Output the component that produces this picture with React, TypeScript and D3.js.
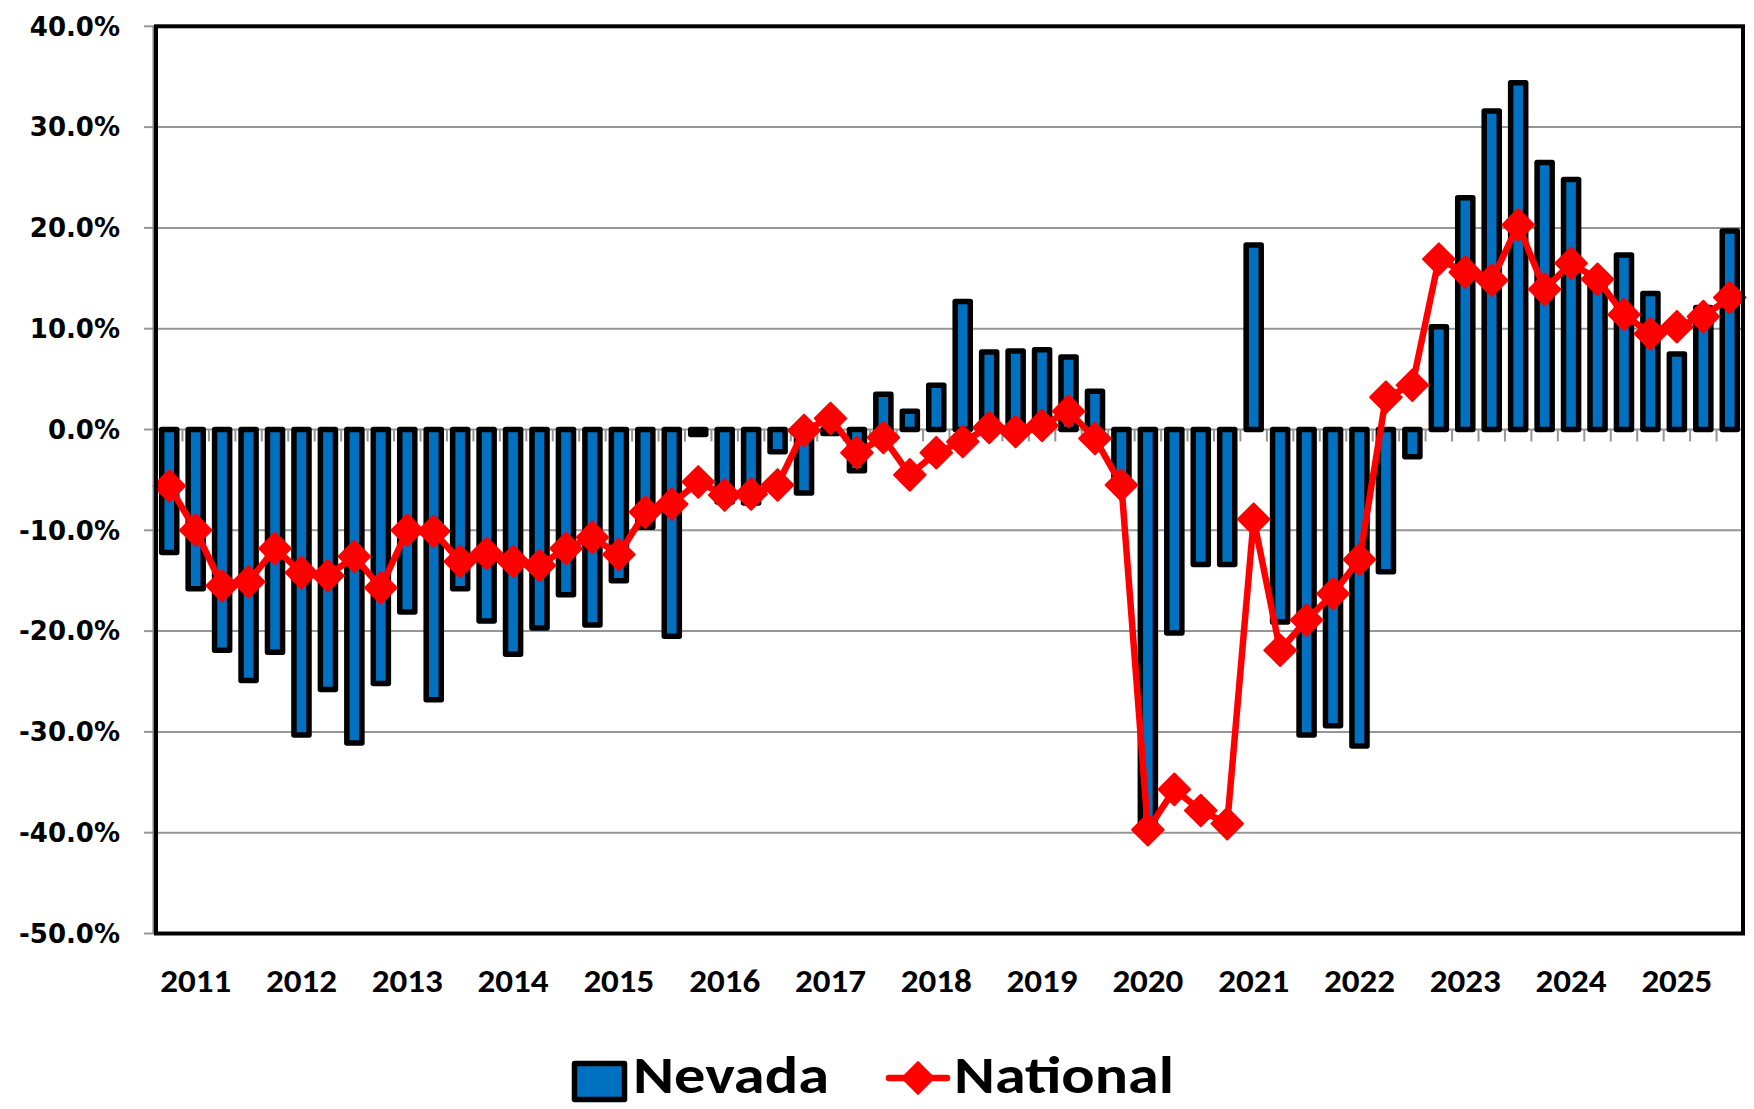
import * as d3 from "d3";
import { useEffect, useRef } from "react";

const QUARTERS = [
  "2010 Q4",
  "2011 Q1", "2011 Q2", "2011 Q3", "2011 Q4",
  "2012 Q1", "2012 Q2", "2012 Q3", "2012 Q4",
  "2013 Q1", "2013 Q2", "2013 Q3", "2013 Q4",
  "2014 Q1", "2014 Q2", "2014 Q3", "2014 Q4",
  "2015 Q1", "2015 Q2", "2015 Q3", "2015 Q4",
  "2016 Q1", "2016 Q2", "2016 Q3", "2016 Q4",
  "2017 Q1", "2017 Q2", "2017 Q3", "2017 Q4",
  "2018 Q1", "2018 Q2", "2018 Q3", "2018 Q4",
  "2019 Q1", "2019 Q2", "2019 Q3", "2019 Q4",
  "2020 Q1", "2020 Q2", "2020 Q3", "2020 Q4",
  "2021 Q1", "2021 Q2", "2021 Q3", "2021 Q4",
  "2022 Q1", "2022 Q2", "2022 Q3", "2022 Q4",
  "2023 Q1", "2023 Q2", "2023 Q3", "2023 Q4",
  "2024 Q1", "2024 Q2", "2024 Q3", "2024 Q4",
  "2025 Q1", "2025 Q2", "2025 Q3",
];

// year labels sit on the Q1 of each year
const YEAR_LABELS = [
  "2011", "2012", "2013", "2014", "2015", "2016", "2017", "2018",
  "2019", "2020", "2021", "2022", "2023", "2024", "2025",
];

const NEVADA = [
  -12.2, -15.8, -21.9, -24.9, -22.1, -30.3, -25.8, -31.1, -25.2, -18.1,
  -26.8, -15.8, -19.0, -22.3, -19.7, -16.4, -19.4, -15.0, -9.7, -20.5,
  -0.5, -7.2, -7.3, -2.2, -6.3, -0.4, -4.1, 3.5, 1.8, 4.4,
  12.7, 7.7, 7.8, 7.9, 7.2, 3.8, -5.8, -39.6, -20.2, -13.4,
  -13.4, 18.3, -19.1, -30.3, -29.4, -31.4, -14.1, -2.7, 10.2, 23.0,
  31.6, 34.4, 26.5, 24.8, 14.5, 17.3, 13.5, 7.5, 12.1, 19.7,
];

const NATIONAL = [
  -5.6, -10.0, -15.5, -15.1, -11.8, -14.2, -14.5, -12.6, -15.7, -10.0,
  -10.1, -13.1, -12.3, -13.1, -13.5, -11.8, -10.7, -12.4, -8.2, -7.4,
  -5.2, -6.5, -6.4, -5.5, -0.1, 1.1, -2.3, -0.8, -4.5, -2.3,
  -1.2, 0.2, -0.2, 0.4, 1.8, -0.9, -5.5, -39.7, -35.7, -37.8,
  -39.1, -8.9, -21.9, -18.9, -16.3, -12.9, 3.2, 4.4, 16.9, 15.6,
  14.8, 20.3, 13.9, 16.5, 14.9, 11.4, 9.5, 10.2, 11.2, 13.1,
];

const Y_TICKS = [-50, -40, -30, -20, -10, 0, 10, 20, 30, 40];

const W = 1754;
const H = 1109;
const PLOT = { left: 156, right: 1743, top: 26.3, bottom: 933.5 };
const BLUE = "#0070C0";
const RED = "#FF0000";
const GRID = "#969696";
const LABEL_FONT = "Carlito, Lato, 'Open Sans', sans-serif";

const App = () => {
  const svgRef = useRef<SVGSVGElement>(null);

  useEffect(() => {
    document.body.style.margin = "0";
    if (!svgRef.current) return;
    const svg = d3.select(svgRef.current);
    svg.selectAll("*").remove();

    const x = d3
      .scaleBand<string>()
      .domain(QUARTERS)
      .range([PLOT.left, PLOT.right])
      .paddingInner(0.43)
      .paddingOuter(0.215);
    const step = x.step();
    const cx = (q: string) => (x(q) as number) + x.bandwidth() / 2;

    const y = d3
      .scaleLinear()
      .domain([-50, 40])
      .range([PLOT.bottom, PLOT.top]);

    // plot background
    svg
      .append("rect")
      .attr("x", PLOT.left)
      .attr("y", PLOT.top)
      .attr("width", PLOT.right - PLOT.left)
      .attr("height", PLOT.bottom - PLOT.top)
      .attr("fill", "#fff");

    // gridlines
    svg
      .append("g")
      .selectAll("line")
      .data(Y_TICKS)
      .enter()
      .append("line")
      .attr("x1", PLOT.left)
      .attr("x2", PLOT.right)
      .attr("y1", (d) => y(d))
      .attr("y2", (d) => y(d))
      .attr("stroke", GRID)
      .attr("stroke-width", 2);

    // y tick marks
    svg
      .append("g")
      .selectAll("line")
      .data(Y_TICKS)
      .enter()
      .append("line")
      .attr("x1", PLOT.left - 12)
      .attr("x2", PLOT.left)
      .attr("y1", (d) => y(d))
      .attr("y2", (d) => y(d))
      .attr("stroke", GRID)
      .attr("stroke-width", 2);

    // y labels
    svg
      .append("g")
      .selectAll("text")
      .data(Y_TICKS)
      .enter()
      .append("text")
      .attr("x", 120)
      .attr("y", (d) => y(d))
      .attr("dy", "0.36em")
      .attr("text-anchor", "end")
      .attr("font-family", "'DejaVu Sans', Verdana, sans-serif")
      .attr("font-weight", "bold")
      .attr("font-size", 26)
      .attr("fill", "#000")
      .text((d) => `${d.toFixed(1)}%`);

    // category ticks on the zero line
    const boundaries = QUARTERS.map((q) => (x(q) as number) - (step - x.bandwidth()) / 2).concat([PLOT.right]);
    svg
      .append("g")
      .selectAll("line")
      .data(boundaries)
      .enter()
      .append("line")
      .attr("x1", (d) => d)
      .attr("x2", (d) => d)
      .attr("y1", y(0))
      .attr("y2", y(0) + 12)
      .attr("stroke", GRID)
      .attr("stroke-width", 2);

    // bars
    svg
      .append("g")
      .selectAll("rect")
      .data(NEVADA)
      .enter()
      .append("rect")
      .attr("x", (_, i) => x(QUARTERS[i]) as number)
      .attr("width", x.bandwidth())
      .attr("y", (d) => y(Math.max(0, d)))
      .attr("height", (d) => Math.abs(y(d) - y(0)))
      .attr("fill", BLUE)
      .attr("stroke", "#000")
      .attr("stroke-width", 5.5)
      .attr("stroke-linejoin", "round");

    // national line
    const line = d3
      .line<number>()
      .x((_, i) => cx(QUARTERS[i]))
      .y((d) => y(d));

    svg
      .append("path")
      .datum(NATIONAL)
      .attr("d", line)
      .attr("fill", "none")
      .attr("stroke", RED)
      .attr("stroke-width", 6.5)
      .attr("stroke-linejoin", "round");

    const diamond = d3.symbol().type(d3.symbolSquare).size(500);
    svg
      .append("g")
      .selectAll("path")
      .data(NATIONAL)
      .enter()
      .append("path")
      .attr("d", diamond)
      .attr("transform", (d, i) => `translate(${cx(QUARTERS[i])},${y(d)}) rotate(45)`)
      .attr("fill", RED)
      .attr("stroke", RED)
      .attr("stroke-width", 2)
      .attr("stroke-linejoin", "round");

    // plot border
    svg
      .append("line")
      .attr("x1", PLOT.left - 2.5)
      .attr("x2", PLOT.left - 2.5)
      .attr("y1", PLOT.top)
      .attr("y2", PLOT.bottom)
      .attr("stroke", "#7f7f7f")
      .attr("stroke-width", 2);
    svg
      .append("rect")
      .attr("x", PLOT.left)
      .attr("y", PLOT.top)
      .attr("width", PLOT.right - PLOT.left)
      .attr("height", PLOT.bottom - PLOT.top)
      .attr("fill", "none")
      .attr("stroke", "#000")
      .attr("stroke-width", 4);

    // year labels
    svg
      .append("g")
      .selectAll("text")
      .data(YEAR_LABELS)
      .enter()
      .append("text")
      .attr("x", (d) => cx(`${d} Q1`))
      .attr("y", 992)
      .attr("text-anchor", "middle")
      .attr("font-family", LABEL_FONT)
      .attr("font-weight", "bold")
      .attr("font-size", 33)
      .attr("textLength", 71)
      .attr("lengthAdjust", "spacingAndGlyphs")
      .attr("fill", "#000")
      .text((d) => d);

    // legend
    const legend = svg.append("g");
    legend
      .append("rect")
      .attr("x", 574.5)
      .attr("y", 1063.5)
      .attr("width", 50)
      .attr("height", 36)
      .attr("fill", BLUE)
      .attr("stroke", "#000")
      .attr("stroke-width", 5.5)
      .attr("stroke-linejoin", "round");
    legend
      .append("text")
      .attr("x", 633)
      .attr("y", 1093)
      .attr("font-family", LABEL_FONT)
      .attr("font-weight", "bold")
      .attr("font-size", 53)
      .attr("textLength", 196)
      .attr("lengthAdjust", "spacingAndGlyphs")
      .text("Nevada");
    legend
      .append("line")
      .attr("x1", 889)
      .attr("x2", 947)
      .attr("y1", 1078)
      .attr("y2", 1078)
      .attr("stroke", RED)
      .attr("stroke-width", 6.5)
      .attr("stroke-linecap", "round");
    legend
      .append("path")
      .attr("d", diamond)
      .attr("transform", "translate(918,1078) rotate(45)")
      .attr("fill", RED)
      .attr("stroke", RED)
      .attr("stroke-width", 2);
    legend
      .append("text")
      .attr("x", 954)
      .attr("y", 1093)
      .attr("font-family", LABEL_FONT)
      .attr("font-weight", "bold")
      .attr("font-size", 53)
      .attr("textLength", 220)
      .attr("lengthAdjust", "spacingAndGlyphs")
      .text("National");
  }, []);

  return (
    <svg
      ref={svgRef}
      width={W}
      height={H}
      style={{ position: "absolute", left: 0, top: 0, background: "#fff" }}
    />
  );
};

export default App;
